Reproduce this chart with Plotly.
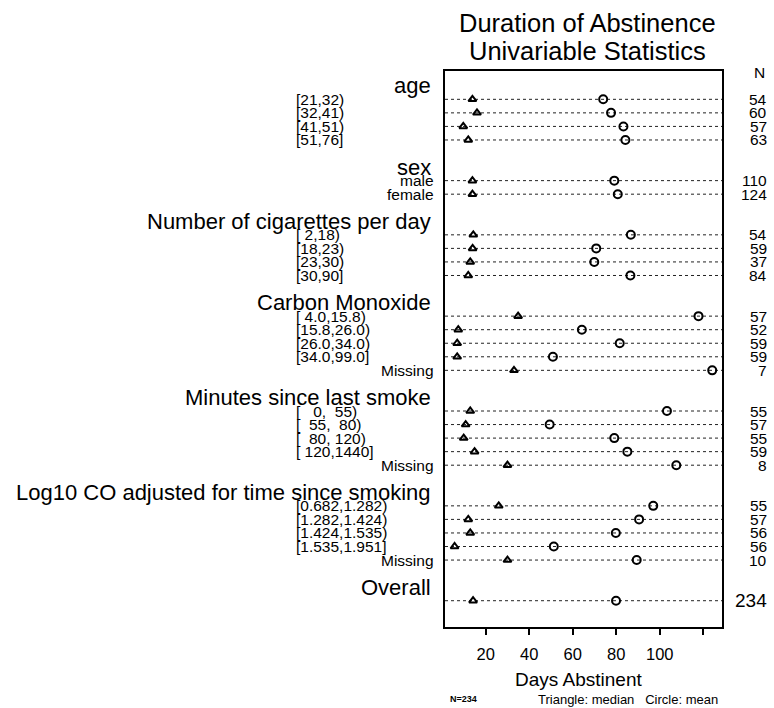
import plotly.graph_objects as go

# Univariable summary: median (triangle) and mean (circle) days abstinent
groups = ["age", "sex", "Number of cigarettes per day", "Carbon Monoxide",
          "Minutes since last smoke", "Log10 CO adjusted for time since smoking",
          "Overall"]

age_levels = ["[21,32)", "[32,41)", "[41,51)", "[51,76]"]
age_median = [13.9, 16.0, 9.7, 12.0]
age_mean = [74.0, 77.6, 83.3, 84.2]
age_n = [54, 60, 57, 63]

sex_levels = ["male", "female"]
sex_median = [13.9, 13.9]
sex_mean = [79.1, 80.7]
sex_n = [110, 124]

cig_levels = ["[ 2,18)", "[18,23)", "[23,30)", "[30,90]"]
cig_median = [14.3, 14.0, 12.9, 12.0]
cig_mean = [86.7, 70.8, 69.9, 86.5]
cig_n = [54, 59, 37, 84]

co_levels = ["[ 4.0,15.8)", "[15.8,26.0)", "[26.0,34.0)", "[34.0,99.0]", "Missing"]
co_median = [34.9, 7.4, 6.9, 6.9, 33.0]
co_mean = [117.8, 64.2, 81.6, 50.9, 124.1]
co_n = [57, 52, 59, 59, 7]

min_levels = ["[   0,  55)", "[  55,  80)", "[  80, 120)", "[ 120,1440]", "Missing"]
min_median = [12.9, 10.8, 9.9, 14.9, 30.0]
min_mean = [103.3, 49.4, 79.1, 85.1, 107.6]
min_n = [55, 57, 55, 59, 8]

log_levels = ["[0.682,1.282)", "[1.282,1.424)", "[1.424,1.535)", "[1.535,1.951]", "Missing"]
log_median = [26.0, 12.0, 12.9, 5.7, 30.0]
log_mean = [97.0, 90.5, 79.8, 51.3, 89.4]
log_n = [55, 57, 56, 56, 10]

overall_levels = [""]
overall_median = [14.2]
overall_mean = [79.9]
overall_n = [234]

tick_vals = [20, 40, 60, 80, 100, 120]
tick_text = ["20", "40", "60", "80", "100", ""]

blocks = [
    (age_levels, age_median, age_mean, age_n),
    (sex_levels, sex_median, sex_mean, sex_n),
    (cig_levels, cig_median, cig_mean, cig_n),
    (co_levels, co_median, co_mean, co_n),
    (min_levels, min_median, min_mean, min_n),
    (log_levels, log_median, log_mean, log_n),
    (overall_levels, overall_median, overall_mean, overall_n),
]

FONT = "Liberation Sans, Arial, Helvetica, sans-serif"
HEAD_SIZE = 22
LEVEL_SIZE = 15.5
N_SIZE = 15.5

rows_y, rows_med, rows_mean = [], [], []
annotations = []
shapes = []

slot = 0
for gname, (levels, med, mean, ns) in zip(groups, blocks):
    # group heading, right-aligned against the panel
    annotations.append(dict(x=0, xref="paper", xshift=-13, xanchor="right",
                            y=slot, yref="y", yanchor="middle", text=gname,
                            showarrow=False, borderpad=0,
                            font=dict(size=HEAD_SIZE, family=FONT, color="black")))
    for i, lev in enumerate(levels):
        y = slot + 1 + i
        rows_y.append(y)
        rows_med.append(med[i])
        rows_mean.append(mean[i])
        shapes.append(dict(type="line", xref="paper", x0=0, x1=1, yref="y", y0=y, y1=y,
                           line=dict(color="#222222", width=1, dash="3px,3px"), layer="below"))
        if lev:
            if lev.startswith("["):
                annotations.append(dict(x=0, xref="paper", xshift=-150, xanchor="left",
                                        y=y, yref="y", yanchor="middle",
                                        text=lev.replace(" ", "\u00a0"), showarrow=False,
                                        borderpad=0,
                                        font=dict(size=LEVEL_SIZE, family=FONT, color="black")))
            else:
                annotations.append(dict(x=0, xref="paper", xshift=-10, xanchor="right",
                                        y=y, yref="y", yanchor="middle", text=lev,
                                        showarrow=False, borderpad=0,
                                        font=dict(size=LEVEL_SIZE, family=FONT, color="black")))
        nsize = 19 if gname == "Overall" else N_SIZE
        annotations.append(dict(x=1, xref="paper", xshift=46, xanchor="right",
                                y=y, yref="y", yanchor="middle", text=str(ns[i]),
                                showarrow=False, borderpad=0,
                                font=dict(size=nsize, family=FONT, color="black")))
    slot += len(levels) + 2

# column heading for counts
annotations.append(dict(x=1, xref="paper", xshift=45, xanchor="right", y=-1, yref="y",
                        yanchor="middle", text="N", showarrow=False,
                        font=dict(size=N_SIZE, family=FONT, color="black")))

# title lines
annotations.append(dict(x=0.515, xref="paper", xanchor="center",
                        y=1 + (71 - 23) / 556, yref="paper",
                        yanchor="middle", text="Duration of Abstinence", showarrow=False,
                        font=dict(size=25.5, family=FONT, color="black")))
annotations.append(dict(x=0.515, xref="paper", xanchor="center",
                        y=1 + (71 - 51) / 556, yref="paper",
                        yanchor="middle", text="Univariable Statistics", showarrow=False,
                        font=dict(size=25.5, family=FONT, color="black")))

# axis title and footnotes
annotations.append(dict(x=(578 - 445) / 277, xref="paper", xanchor="center",
                        y=-(679 - 627) / 556, yref="paper", yanchor="middle",
                        text="Days Abstinent", showarrow=False,
                        font=dict(size=19, family=FONT, color="black")))
annotations.append(dict(x=(448 - 445) / 277, xref="paper", xanchor="left",
                        y=-(699 - 627) / 556, yref="paper", yanchor="middle",
                        text="<b>N=234</b>", showarrow=False,
                        font=dict(size=9, family=FONT, color="black")))
annotations.append(dict(x=(720 - 445) / 277, xref="paper", xanchor="right",
                        y=-(699 - 627) / 556, yref="paper", yanchor="middle",
                        text="Triangle: median\u00a0\u00a0\u00a0Circle: mean", showarrow=False,
                        font=dict(size=13, family=FONT, color="black")))

fig = go.Figure()
fig.add_trace(go.Scatter(x=rows_med, y=rows_y, mode="markers", name="median",
                         marker=dict(symbol="triangle-up-open", size=7, color="black",
                                     line=dict(width=2, color="black")),
                         showlegend=False))
fig.add_trace(go.Scatter(x=rows_mean, y=rows_y, mode="markers", name="mean",
                         marker=dict(symbol="circle-open", size=8, color="black",
                                     line=dict(width=2, color="black")),
                         showlegend=False))

fig.update_layout(
    width=774, height=708,
    margin=dict(l=445, r=52, t=71, b=81),
    paper_bgcolor="white", plot_bgcolor="white",
    font=dict(family=FONT, color="black"),
    annotations=annotations, shapes=shapes,
    xaxis=dict(range=[1.3, 128.6], tickvals=tick_vals, ticktext=tick_text,
               ticks="outside", ticklen=6, tickwidth=1.5, tickcolor="black",
               ticklabelstandoff=5,
               showgrid=False, zeroline=False, showline=True, mirror=True,
               linecolor="black", linewidth=1.5,
               tickfont=dict(size=16.5, family=FONT, color="black")),
    yaxis=dict(range=[39.94, -1.09], showticklabels=False, ticks="",
               showgrid=False, zeroline=False, showline=True, mirror=True,
               linecolor="black", linewidth=1.5),
)

fig.write_html("out.html")
